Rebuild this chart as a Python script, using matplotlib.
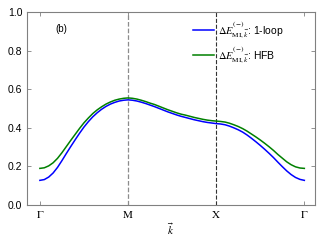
import numpy as np
import matplotlib
matplotlib.use("Agg")
import matplotlib.pyplot as plt

plt.rcParams['font.family'] = ['Liberation Sans', 'DejaVu Sans']
plt.rcParams['mathtext.fontset'] = 'stix'

# path position along Gamma - M - X - Gamma (each segment = 1 unit)
k_path = np.round(np.arange(0, 3.001, 0.05), 3)

e_1loop = [0.128, 0.132, 0.145, 0.166, 0.195, 0.230, 0.267, 0.303, 0.338, 0.372,
           0.404, 0.432, 0.457, 0.478, 0.496, 0.511, 0.523, 0.532, 0.539, 0.543,
           0.545, 0.543, 0.539, 0.533, 0.526, 0.518, 0.510, 0.501, 0.492, 0.483,
           0.475, 0.467, 0.460, 0.454, 0.448, 0.442, 0.437, 0.432, 0.428, 0.425,
           0.422, 0.420, 0.416, 0.409, 0.400, 0.390, 0.378, 0.363, 0.346, 0.328,
           0.309, 0.289, 0.268, 0.246, 0.222, 0.199, 0.177, 0.158, 0.143, 0.133,
           0.128]
e_hfb = [0.190, 0.193, 0.203, 0.219, 0.242, 0.271, 0.303, 0.335, 0.366, 0.397,
         0.426, 0.451, 0.474, 0.493, 0.509, 0.523, 0.534, 0.543, 0.549, 0.553,
         0.555, 0.553, 0.549, 0.543, 0.536, 0.528, 0.521, 0.512, 0.503, 0.494,
         0.486, 0.478, 0.471, 0.466, 0.460, 0.454, 0.449, 0.444, 0.440, 0.437,
         0.435, 0.433, 0.430, 0.424, 0.416, 0.407, 0.396, 0.383, 0.368, 0.353,
         0.337, 0.320, 0.302, 0.283, 0.262, 0.243, 0.224, 0.209, 0.198, 0.192,
         0.190]

tick_pos = [0, 1, 2, 3]
tick_labels = [r'$\Gamma$', r'$\mathrm{M}$', r'$\mathrm{X}$', r'$\Gamma$']

fig = plt.figure(figsize=(3.25, 2.45), dpi=100)
ax = fig.add_axes([0.082, 0.163, 0.887, 0.788])

ax.axvline(1, color='0.55', ls='--', lw=0.9)
ax.axvline(2, color='0.2', ls='--', lw=0.8)

ax.plot(k_path, e_1loop, color='#0000ff', lw=1.1,
        label=r'$\Delta E^{(-)}_{\mathrm{MI},\vec{k}}$: 1-loop')
ax.plot(k_path, e_hfb, color='#008000', lw=1.1,
        label=r'$\Delta E^{(-)}_{\mathrm{MI},\vec{k}}$: HFB')

ax.set_xlim(-0.15, 3.12)
ax.set_ylim(0, 1)
ax.set_xticks(tick_pos)
ax.set_xticklabels(tick_labels, fontsize=8)
ax.set_yticks([0, 0.2, 0.4, 0.6, 0.8, 1.0])
ax.set_yticklabels(['0.0', '0.2', '0.4', '0.6', '0.8', '1.0'], fontsize=7.5)
ax.set_xlabel(r'$\vec{k}$', fontsize=8, labelpad=1)

ax.tick_params(direction='in', top=True, right=True, length=3, width=0.6,
               color='0.5', pad=3)
for s in ax.spines.values():
    s.set_color('0.5')
    s.set_linewidth(0.8)

ax.text(0.098, 0.91, '(b)', transform=ax.transAxes, fontsize=7, va='center')

ax.legend(loc='upper left', bbox_to_anchor=(0.57, 0.975), frameon=False,
          fontsize=7.5, handlelength=2.0, handletextpad=0.35, labelspacing=0.4,
          borderaxespad=0, borderpad=0.2)

fig.savefig('out.png', dpi=100)
